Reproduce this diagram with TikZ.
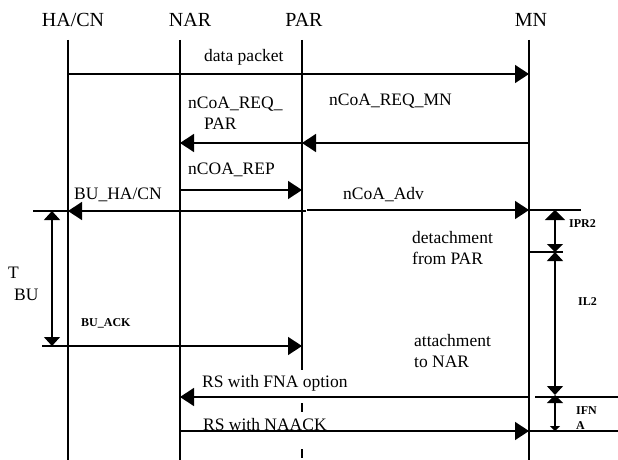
\documentclass[tikz,border=0pt]{standalone}
\usepackage{fontspec}
\setmainfont{Liberation Serif}
\usetikzlibrary{arrows.meta}

\begin{document}
\begin{tikzpicture}[x=1pt,y=-1pt,
	lane/.style={black,line width=1.4pt},
	msg/.style={lane,-{Triangle[length=14pt,width=18pt]}},
	span/.style={lane,{Triangle[length=9pt,width=16pt]}-{Triangle[length=9pt,width=16pt]}},
	hdr/.style={font=\fontsize{20}{22}\selectfont},
	lbl/.style={font=\fontsize{17.5}{21}\selectfont,align=left,anchor=west},
	sml/.style={font=\fontsize{12}{15}\selectfont\bfseries,align=left,anchor=west}]
	\tikzstyle{every node}+=[inner sep=0pt]
	\useasboundingbox (0,0) rectangle (618,460);
	\node [hdr] (hacn) at (73,20) {HA/CN};
	\node [hdr] (nar) at (190,20) {NAR};
	\node [hdr] (par) at (304,20) {PAR};
	\node [hdr] (mn) at (531,20) {MN};
	\foreach \n/\x in {hacn/68,nar/180,mn/529}
	{
		\coordinate (\n-a) at (\x,40);
		\coordinate (\n-b) at (\x,460);
		\draw [lane] (\n-a) -- (\n-b);
	}
	\coordinate (par-a) at (302,40);
	\coordinate (par-b) at (302,370);
	\coordinate (par-c) at (302,403);
	\coordinate (par-d) at (302,460);
	\draw [lane] (par-a) -- (par-b);
	\draw [lane,dash pattern=on 9pt off 37pt] (par-c) -- (par-d);
	% messages
	\coordinate (dp-s) at (68,74);
	\coordinate (dp-e) at (529,74);
	\draw [msg] (dp-s) -- (dp-e);
	\node [lbl] (l-dp) at (204,57) {data packet};
	\coordinate (rqm-s) at (529,143);
	\coordinate (rqm-e) at (302,143);
	\draw [msg] (rqm-s) -- (rqm-e);
	\node [lbl] (l-rqm) at (329,101) {nCoA\_REQ\_MN};
	\coordinate (rqp-e) at (180,143);
	\draw [msg] (rqm-e) -- (rqp-e);
	\node [lbl] (l-rqp) at (188,113) {nCoA\_REQ\_\\\hspace{16pt}PAR};
	\coordinate (rep-s) at (180,190);
	\coordinate (rep-e) at (302,190);
	\draw [msg] (rep-s) -- (rep-e);
	\node [lbl] (l-rep) at (188,170) {nCOA\_REP};
	\coordinate (bu-w) at (33,211);
	\coordinate (bu-s) at (306,211);
	\coordinate (bu-e) at (68,211);
	\draw [lane] (bu-w) -- (bu-e);
	\draw [msg] (bu-s) -- (bu-e);
	\node [lbl] (l-bu) at (74,195) {BU\_HA/CN};
	\coordinate (adv-s) at (307,210);
	\coordinate (adv-e) at (529,210);
	\coordinate (adv-x) at (581,210);
	\draw [msg] (adv-s) -- (adv-e);
	\draw [lane] (adv-e) -- (adv-x);
	\node [lbl] (l-adv) at (343,195) {nCoA\_Adv};
	\coordinate (ack-s) at (42,346);
	\coordinate (ack-e) at (302,346);
	\draw [msg] (ack-s) -- (ack-e);
	\node [sml] (l-ack) at (81,323) {BU\_ACK};
	\coordinate (fna-s) at (529,397);
	\coordinate (fna-e) at (180,397);
	\coordinate (fna-a) at (535,397);
	\coordinate (fna-x) at (618,397);
	\draw [msg] (fna-s) -- (fna-e);
	\draw [lane] (fna-a) -- (fna-x);
	\node [lbl] (l-fna) at (202,383) {RS with FNA option};
	\coordinate (nak-s) at (180,431);
	\coordinate (nak-e) at (529,431);
	\coordinate (nak-x) at (618,431);
	\draw [msg] (nak-s) -- (nak-e);
	\draw [lane] (nak-e) -- (nak-x);
	\node [lbl] (l-nak) at (203,425) {RS with NAACK};
	% timers
	\coordinate (tbu-a) at (52,211);
	\coordinate (tbu-b) at (52,346);
	\draw [span] (tbu-a) -- (tbu-b);
	\node [lbl,font=\fontsize{17.5}{22}\selectfont] (l-tbu) at (8,284) {T\\\hspace{6pt}BU};
	\coordinate (t-pr) at (555,210);
	\coordinate (t-det) at (555,252);
	\coordinate (t-att) at (555,395);
	\coordinate (t-fna) at (555,431);
	\coordinate (det-a) at (529,252);
	\coordinate (det-b) at (563,252);
	\draw [lane] (det-a) -- (det-b);
	\draw [lane,{Triangle[length=10pt,width=20pt]}-{Triangle[length=8pt,width=16pt]}] (t-pr) -- (t-det);
	\draw [span] (t-det) -- (t-att);
	\draw [lane,{Triangle[length=8pt,width=16pt]}-{Triangle[length=5pt,width=10pt]}] (t-att) -- (t-fna);
	\node [sml] (l-pr) at (569,224) {IPR2};
	\node [sml] (l-l2) at (578,302) {IL2};
	\node [sml,fill=white] (l-ifn) at (576,418) {IFN\\A};
	\node [lbl] (l-det) at (412,248) {detachment\\from PAR};
	\node [lbl] (l-att) at (414,351) {attachment\\to NAR};
\end{tikzpicture}
\end{document}
